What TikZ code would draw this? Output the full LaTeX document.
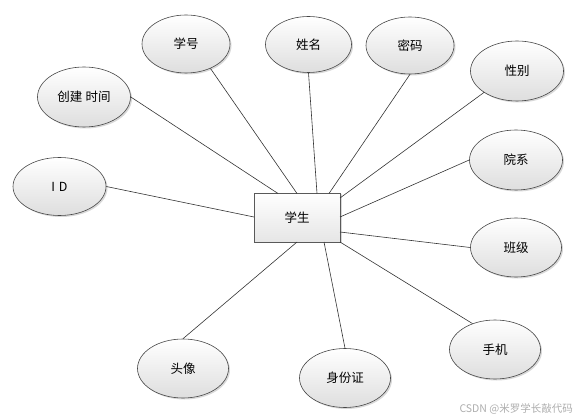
\documentclass[tikz,border=0pt]{standalone}
\usepackage{fontspec}
\newfontfamily\cjk{Noto Sans CJK SC}
\usetikzlibrary{shapes.geometric,shadows}
\begin{document}
\begin{tikzpicture}[x=1pt,y=-1pt,
  attr/.style={ellipse, draw=black!72, line width=0.6pt, top color=white, bottom color=black!13,
    drop shadow={shadow xshift=1.5pt,shadow yshift=-1.5pt,fill=black!30},
    minimum width=91pt, minimum height=59pt, inner sep=0pt,
    font=\cjk\fontsize{12.5}{15}\selectfont},
  ent/.style={rectangle, draw=black!65, line width=0.8pt, top color=white, bottom color=black!10,
    drop shadow={shadow xshift=1.5pt,shadow yshift=-1.5pt,fill=black!30},
    minimum width=86pt, minimum height=49pt, inner sep=0pt,
    font=\cjk\fontsize{12.5}{15}\selectfont},
  link/.style={draw=black!80, line width=0.6pt},
  wmark/.style={font=\cjk\fontsize{10.5}{12}\selectfont, text=black!32, inner sep=0pt}]
\useasboundingbox (0,0) rectangle (577,419);
% entity
\node[ent] (s) at (297,217.5) {学生};
% attributes
\node[attr, minimum width=88pt, minimum height=58pt] (xh) at (186,44) {学号};
\node[attr, minimum width=86pt, minimum height=56pt] (xm) at (308.5,44.5) {姓名};
\node[attr, minimum width=88pt, minimum height=57pt] (mm) at (410,45.5) {密码};
\node[attr, minimum width=93pt, minimum height=60pt] (xb) at (517,71) {性别};
\node[attr, minimum width=93pt, minimum height=60pt] (cj) at (84,97) {创建\hspace{0.25em}时间};
\node[attr, minimum width=93pt, minimum height=58pt] (id) at (59.5,186.5) {I\hspace{0.3em}D};
\node[attr, minimum width=93pt, minimum height=60pt] (yx) at (516,160) {院系};
\node[attr] (bj) at (516,247.5) {班级};
\node[attr] (sj) at (495,349.5) {手机};
\node[attr] (sf) at (345,378) {身份证};
\node[attr] (tx) at (183,368.5) {头像};
% connection points on the entity
\coordinate (pcj) at (278,193.5);
\coordinate (pxh) at (297,193.5);
\coordinate (pxm) at (317,193.5);
\coordinate (pmm) at (329,193.5);
\coordinate (pxb) at (340,198);
\coordinate (pyx) at (340,217);
\coordinate (pbj) at (340,232);
\coordinate (psj) at (340,242);
\coordinate (psf) at (324,242);
\coordinate (ptx) at (297,242);
\coordinate (pid) at (254,217);
% connectors
\draw[link] (cj.east) -- (pcj);
\draw[link] (xh.-45) -- (pxh);
\draw[link] (xm.south) -- (pxm);
\draw[link] (mm.south) -- (pmm);
\draw[link] (xb.213) -- (pxb);
\draw[link] (yx.west) -- (pyx);
\draw[link] (bj.west) -- (pbj);
\draw[link] (sj.131) -- (psj);
\draw[link] (sf.north) -- (psf);
\draw[link] (tx.north) -- (ptx);
\draw[link] (id.east) -- (pid);
% watermark
\node[wmark, anchor=east] (wm) at (573,409) {CSDN @米罗学长敲代码};
\end{tikzpicture}
\end{document}
